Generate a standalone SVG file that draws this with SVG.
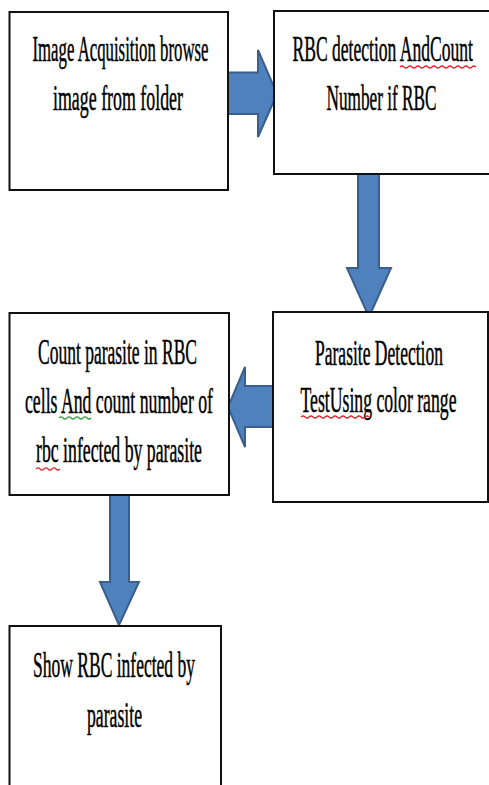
<svg xmlns="http://www.w3.org/2000/svg" width="489" height="785" viewBox="0 0 489 785">
<style>
.box{fill:#fff;stroke:#111;stroke-width:2}
.arrow{fill:#4F81BD;stroke:#3A5F8E;stroke-width:2;stroke-linejoin:miter}
.t{font-family:"Liberation Serif","Times New Roman",serif;font-size:35px;fill:#000;stroke:#000;stroke-width:0.5}
.wr{fill:none;stroke:#e0262a;stroke-width:1.2}
.wg{fill:none;stroke:#2e9a3a;stroke-width:1.2}
</style>
<rect width="489" height="785" fill="#fff"/>
<g id="connectors">
<polygon class="arrow" points="227,72.5 258,72.5 258,50 277,94 258,137 258,114 227,114"/>
<polygon class="arrow" points="358,172 379,172 379,268 391,268 369,317 347,268 358,268"/>
<polygon class="arrow" points="277,386 245,386 245,367 228,407 245,447 245,427 277,427"/>
<polygon class="arrow" points="110,492 129,492 129,582 139,582 119,625 100,582 110,582"/>
</g>
<g id="node1">
<rect class="box" x="9.5" y="12" width="218.5" height="178"/>
<text class="t" transform="translate(32.5,61) scale(0.5,1)" textLength="352" lengthAdjust="spacingAndGlyphs">Image Acquisition browse</text>
<text class="t" transform="translate(53,110) scale(0.5,1)" textLength="260" lengthAdjust="spacingAndGlyphs">image from folder</text>
</g>
<g id="node2">
<rect class="box" x="274" y="11" width="220" height="163"/>
<text class="t" transform="translate(292.5,61) scale(0.5,1)" textLength="361" lengthAdjust="spacingAndGlyphs">RBC detection AndCount</text>
<path class="wr" d="M400,67 q2,-2 4,0 t4,0 t4,0 t4,0 t4,0 t4,0 t4,0 t4,0 t4,0 t4,0 t4,0 t4,0 t4,0 t4,0 t4,0 t4,0 t4,0 t4,0 t4,0"/>
<text class="t" transform="translate(326.5,110) scale(0.5,1)" textLength="220" lengthAdjust="spacingAndGlyphs">Number if RBC</text>
</g>
<g id="node3">
<rect class="box" x="273" y="312" width="215" height="190"/>
<text class="t" transform="translate(315,365) scale(0.5,1)" textLength="256" lengthAdjust="spacingAndGlyphs">Parasite Detection</text>
<text class="t" transform="translate(300.5,412) scale(0.5,1)" textLength="312" lengthAdjust="spacingAndGlyphs">TestUsing color range</text>
<path class="wr" d="M301,417 q2,-2 4,0 t4,0 t4,0 t4,0 t4,0 t4,0 t4,0 t4,0 t4,0 t4,0 t4,0 t4,0 t4,0 t4,0 t4,0 t4,0 t4,0"/>
</g>
<g id="node4">
<rect class="box" x="9.5" y="313" width="219.5" height="182"/>
<text class="t" transform="translate(38,364) scale(0.5,1)" textLength="318" lengthAdjust="spacingAndGlyphs">Count parasite in RBC</text>
<text class="t" transform="translate(25,413) scale(0.5,1)" textLength="376" lengthAdjust="spacingAndGlyphs">cells  And count number of</text>
<path class="wg" d="M59,418 q2,-2 4,0 t4,0 t4,0 t4,0 t4,0 t4,0 t4,0 t4,0"/>
<text class="t" transform="translate(36,462) scale(0.5,1)" textLength="332" lengthAdjust="spacingAndGlyphs">rbc infected by parasite</text>
<path class="wr" d="M36,469 q2,-2 4,0 t4,0 t4,0 t4,0 t4,0 t4,0"/>
</g>
<g id="node5">
<rect class="box" x="9.5" y="626" width="211.5" height="170"/>
<text class="t" transform="translate(33,677) scale(0.5,1)" textLength="324" lengthAdjust="spacingAndGlyphs">Show RBC infected by</text>
<text class="t" transform="translate(87,727) scale(0.5,1)" textLength="110" lengthAdjust="spacingAndGlyphs">parasite</text>
</g>
</svg>
